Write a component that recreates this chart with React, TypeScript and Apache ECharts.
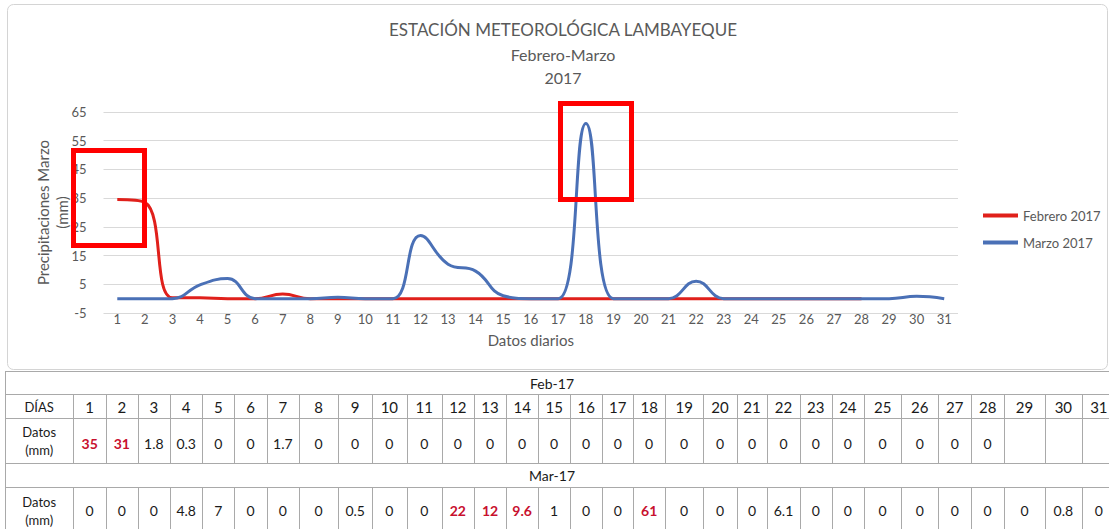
import React, { useEffect, useRef } from "react";
import * as echarts from "echarts";

// ---------- data ----------
const dayLabels = ["1","2","3","4","5","6","7","8","9","10","11","12","13","14","15","16","17","18","19","20","21","22","23","24","25","26","27","28","29","30","31"];
const yMin = -5;
const yMax = 65;
const yStep = 10;

// values as plotted by the curves
const febPlot = [34.5, 33.5, 0.3, 0.3, 0, 0, 1.6, 0, 0, 0, 0, 0, 0, 0, 0, 0, 0, 0, 0, 0, 0, 0, 0, 0, 0, 0, 0, 0];
const marPlot = [0, 0, 0, 4.8, 7, 0, 0, 0, 0.5, 0, 0, 22, 12, 9.6, 1, 0, 0, 61, 0, 0, 0, 6.1, 0, 0, 0, 0, 0, 0, 0, 0.8, 0];

// values as printed in the table
const febTable = ["35","31","1.8","0.3","0","0","1.7","0","0","0","0","0","0","0","0","0","0","0","0","0","0","0","0","0","0","0","0","0","","",""];
const marTable = ["0","0","0","4.8","7","0","0","0","0.5","0","0","22","12","9.6","1","0","0","61","0","0","0","6.1","0","0","0","0","0","0","0","0.8","0"];
const febHighlight = [1, 2];
const marHighlight = [12, 13, 14, 18];

const titleLines = ["ESTACIÓN METEOROLÓGICA LAMBAYEQUE", "Febrero-Marzo", "2017"];
const seriesNames = ["Febrero 2017", "Marzo 2017"];
const febHeader = "Feb-17";
const marHeader = "Mar-17";

// ---------- layout / style ----------
const FONT = "Lato, 'Open Sans', sans-serif";
const RED = "#e0201b";
const BLUE = "#4a70b6";
const GRAY = "#595959";
const colEdges = [5, 73.3, 106, 137.7, 170, 202.3, 234.3, 266.7, 299, 338.3, 372, 406.7, 441.7, 474, 506, 538.3, 570, 602.3, 633.3, 665, 703.3, 736.7, 767.3, 799.7, 831.7, 864, 901.3, 938.3, 971.3, 1004, 1045, 1081.7, 1116];
const rowEdges = [371.5, 394.5, 418.5, 463.5, 487.5, 533.5];

function buildGraphics(): any[] {
  const els: any[] = [];
  const lineStyle = { stroke: "#a9a9a9", lineWidth: 1 };
  // chart frame
  els.push({ type: "rect", shape: { x: 7.5, y: 4.5, width: 1100, height: 365, r: 6 }, style: { fill: "none", stroke: "#d4d4d4", lineWidth: 1 }, silent: true });
  // titles
  const titleY = [29, 54, 77];
  titleLines.forEach((t, i) => {
    els.push({ type: "text", x: 563, y: titleY[i], style: { text: t, align: "center", verticalAlign: "middle", textAlign: "center", textVerticalAlign: "middle", fontSize: i === 0 ? 17 : 16, fontFamily: FONT, fill: GRAY } });
  });
  // red highlight boxes
  els.push({ type: "rect", shape: { x: 73.5, y: 150.5, width: 71, height: 95 }, style: { fill: "none", stroke: "#ff0000", lineWidth: 5 }, z: 10 });
  els.push({ type: "rect", shape: { x: 560.5, y: 103.5, width: 71, height: 96 }, style: { fill: "none", stroke: "#ff0000", lineWidth: 5 }, z: 10 });

  const xL = colEdges[0];
  const xR = colEdges[colEdges.length - 1];
  rowEdges.forEach((y) => {
    els.push({ type: "line", shape: { x1: xL, y1: y, x2: xR, y2: y }, style: lineStyle });
  });
  els.push({ type: "line", shape: { x1: xL + 0.5, y1: rowEdges[0], x2: xL + 0.5, y2: rowEdges[5] }, style: lineStyle });
  colEdges.slice(1).forEach((x) => {
    const xx = Math.round(x) + 0.5;
    els.push({ type: "line", shape: { x1: xx, y1: rowEdges[1], x2: xx, y2: rowEdges[3] }, style: lineStyle });
    els.push({ type: "line", shape: { x1: xx, y1: rowEdges[4], x2: xx, y2: rowEdges[5] }, style: lineStyle });
  });
  const txt = (text: string, x: number, y: number, size: number, color = "#1a1a1a", weight: any = "normal") => ({
    type: "text", x, y,
    style: { text, align: "center", verticalAlign: "middle", textAlign: "center", textVerticalAlign: "middle", fontSize: size, fontFamily: FONT, fontWeight: weight, fill: color },
  });
  els.push(txt(febHeader, 552, (rowEdges[0] + rowEdges[1]) / 2, 14, "#1a1a1a"));
  els.push(txt(marHeader, 552, (rowEdges[3] + rowEdges[4]) / 2, 14, "#1a1a1a"));
  const c0 = (colEdges[0] + colEdges[1]) / 2;
  els.push(txt("DÍAS", c0, (rowEdges[1] + rowEdges[2]) / 2, 13));
  const febMid = (rowEdges[2] + rowEdges[3]) / 2;
  const marMid = (rowEdges[4] + rowEdges[5]) / 2;
  [febMid, marMid].forEach((m) => {
    els.push(txt("Datos", c0, m - 9, 13));
    els.push(txt("(mm)", c0, m + 9, 13));
  });
  dayLabels.forEach((d, i) => {
    const cx = (colEdges[i + 1] + colEdges[i + 2]) / 2;
    els.push(txt(d, cx, (rowEdges[1] + rowEdges[2]) / 2, 15));
    const fv = febTable[i];
    if (fv !== "") {
      const hl = febHighlight.includes(i + 1);
      els.push(txt(fv, cx, febMid + 2, 14, hl ? "#c8102e" : "#1a1a1a", hl ? "bold" : "normal"));
    }
    const mv = marTable[i];
    if (mv !== "") {
      const hl = marHighlight.includes(i + 1);
      els.push(txt(mv, cx, marMid, 14, hl ? "#c8102e" : "#1a1a1a", hl ? "bold" : "normal"));
    }
  });
  return els;
}

export default function App() {
  const ref = useRef<HTMLDivElement>(null);
  useEffect(() => {
    if (!ref.current) return;
    const chart = echarts.init(ref.current, undefined, { renderer: "svg" });
    chart.setOption({
      animation: false,
      backgroundColor: "#ffffff",
      textStyle: { fontFamily: FONT },
      grid: { left: 103.5, right: 151, top: 112, bottom: 216, containLabel: false },
      legend: {
        orient: "vertical",
        left: 978,
        top: 204,
        itemWidth: 35,
        itemHeight: 4,
        itemGap: 14,
        icon: "rect",
        data: seriesNames,
        textStyle: { fontSize: 13, color: GRAY, fontFamily: FONT },
      },
      xAxis: {
        type: "category",
        data: dayLabels,
        boundaryGap: true,
        axisLine: { show: false },
        axisTick: { show: false },
        axisLabel: { color: GRAY, fontSize: 13, margin: -1, interval: 0, fontFamily: FONT },
        name: "Datos diarios",
        nameLocation: "middle",
        nameGap: 19,
        nameMoveOverlap: false,
        nameTextStyle: { color: GRAY, fontSize: 15, fontFamily: FONT },
      },
      yAxis: {
        type: "value",
        min: yMin,
        max: yMax,
        interval: yStep,
        axisLine: { show: false },
        axisTick: { show: false },
        axisLabel: { color: GRAY, fontSize: 13, margin: 17, fontFamily: FONT },
        splitLine: { lineStyle: { color: "#d9d9d9", width: 1 } },
        name: "Precipitaciones Marzo\n(mm)",
        nameLocation: "middle",
        nameRotate: 90,
        nameGap: 32,
        nameMoveOverlap: false,
        nameTextStyle: { color: GRAY, fontSize: 15, lineHeight: 19, fontFamily: FONT },
      },
      series: [
        {
          name: seriesNames[0],
          type: "line",
          data: febPlot,
          smooth: 0.45,
          showSymbol: false,
          lineStyle: { width: 3, color: RED },
          itemStyle: { color: RED },
          z: 2,
        },
        {
          name: seriesNames[1],
          type: "line",
          data: marPlot,
          smooth: 0.45,
          showSymbol: false,
          lineStyle: { width: 3, color: BLUE },
          itemStyle: { color: BLUE },
          z: 3,
        },
      ],
      graphic: buildGraphics(),
    });
    return () => chart.dispose();
  }, []);
  return <div ref={ref} style={{ position: "absolute", left: 0, top: 0, width: 1109, height: 529 }} />;
}
